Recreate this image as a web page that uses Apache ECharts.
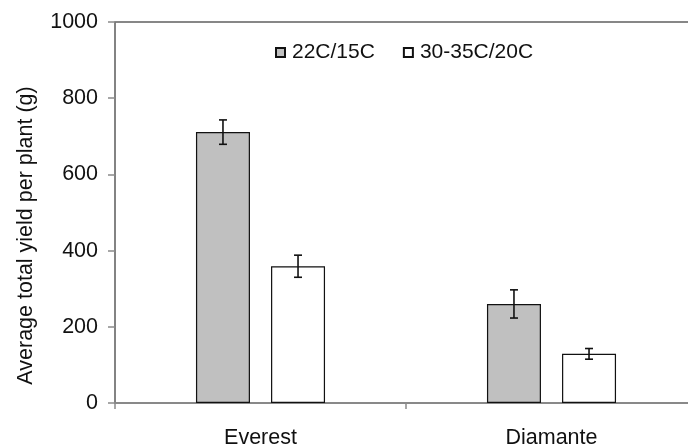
<!DOCTYPE html>
<html>
<head>
<meta charset="utf-8">
<script src="https://cdn.jsdelivr.net/npm/echarts@6/dist/echarts.min.js"></script>
<style>
  html, body { margin: 0; padding: 0; background: #fff; }
  #chart { width: 688px; height: 446px; }
</style>
</head>
<body>
<div id="chart"></div>
<script>
// Cultivars on the category axis
const cultivars = ['Everest', 'Diamante'];

// Temperature regimes (day/night)
const regimes = ['22C/15C', '30-35C/20C'];

// Mean yield per plant (g) for each regime, by cultivar
const yieldCool = [711, 260];
const yieldWarm = [359, 129];

// Standard error of each mean (g)
const errCool = [32, 37];
const errWarm = [29, 14];

// Value axis range
const yMin = 0;
const yMax = 1000;
const yStep = 200;

const FONT = 'Liberation Sans, Arial, sans-serif';
const FS = 21.5;
const BAR_W = 54;
const GAP_RATIO = 0.39;

// Builds a whisker series for one bar series; the offset puts it over its own bar
function whiskers(name, means, errs, shift) {
  return {
    name: name + ' err',
    type: 'custom',
    z: 10,
    silent: true,
    data: means.map((m, i) => [i, m - errs[i], m + errs[i]]),
    renderItem: function (params, api) {
      const lo = api.coord([api.value(0), api.value(1)]);
      const hi = api.coord([api.value(0), api.value(2)]);
      const x = lo[0] + shift;
      const cap = 4;
      const style = { stroke: '#111', lineWidth: 1.6 };
      return {
        type: 'group',
        children: [
          { type: 'line', shape: { x1: x, y1: hi[1], x2: x, y2: lo[1] }, style },
          { type: 'line', shape: { x1: x - cap, y1: hi[1], x2: x + cap, y2: hi[1] }, style },
          { type: 'line', shape: { x1: x - cap, y1: lo[1], x2: x + cap, y2: lo[1] }, style }
        ]
      };
    }
  };
}

const chart = echarts.init(document.getElementById('chart'), null, { renderer: 'canvas' });

// Horizontal distance from category centre to each bar's centre
const half = (BAR_W + BAR_W * GAP_RATIO) / 2;

chart.setOption({
  animation: false,
  backgroundColor: '#fff',
  textStyle: { fontFamily: FONT },
  grid: {
    left: 115,
    top: 22,
    width: 582,
    height: 381,
    outerBoundsMode: 'none',
    containLabel: false,
    show: true,
    borderColor: '#111',
    borderWidth: 1.2,
    backgroundColor: 'transparent'
  },
  legend: {
    data: regimes,
    left: 270,
    top: 37,
    itemWidth: 9,
    itemHeight: 9,
    itemGap: 28,
    icon: 'rect',
    textStyle: { fontFamily: FONT, fontSize: 21, color: '#111', padding: [0, 0, 0, 2] }
  },
  xAxis: {
    type: 'category',
    data: cultivars,
    axisLine: { lineStyle: { color: '#8a8a8a', width: 1.5 } },
    axisTick: { show: true, length: 6, lineStyle: { color: '#8a8a8a', width: 1.5 } },
    axisLabel: { color: '#111', fontSize: FS, fontFamily: FONT, margin: 24 }
  },
  yAxis: {
    type: 'value',
    min: yMin,
    max: yMax,
    interval: yStep,
    name: 'Average total yield per plant (g)',
    nameLocation: 'middle',
    nameGap: 78,
    nameTextStyle: { color: '#111', fontSize: FS, fontFamily: FONT, padding: [0, 46, 0, 0] },
    axisLine: { show: true, lineStyle: { color: '#8a8a8a', width: 1.5 } },
    axisTick: { show: true, inside: false, length: 7, lineStyle: { color: '#8a8a8a', width: 1.5 } },
    splitLine: { show: false },
    axisLabel: { color: '#111', fontSize: FS, fontFamily: FONT, margin: 17, formatter: v => String(v) }
  },
  series: [
    {
      name: regimes[0],
      type: 'bar',
      data: yieldCool,
      barWidth: BAR_W,
      barGap: (GAP_RATIO * 100) + '%',
      itemStyle: { color: '#c0c0c0', borderColor: '#111', borderWidth: 1.2 }
    },
    {
      name: regimes[1],
      type: 'bar',
      data: yieldWarm,
      barWidth: BAR_W,
      barGap: (GAP_RATIO * 100) + '%',
      itemStyle: { color: '#ffffff', borderColor: '#111', borderWidth: 1.2 }
    },
    whiskers(regimes[0], yieldCool, errCool, -half),
    whiskers(regimes[1], yieldWarm, errWarm, half)
  ]
});
</script>
</body>
</html>
